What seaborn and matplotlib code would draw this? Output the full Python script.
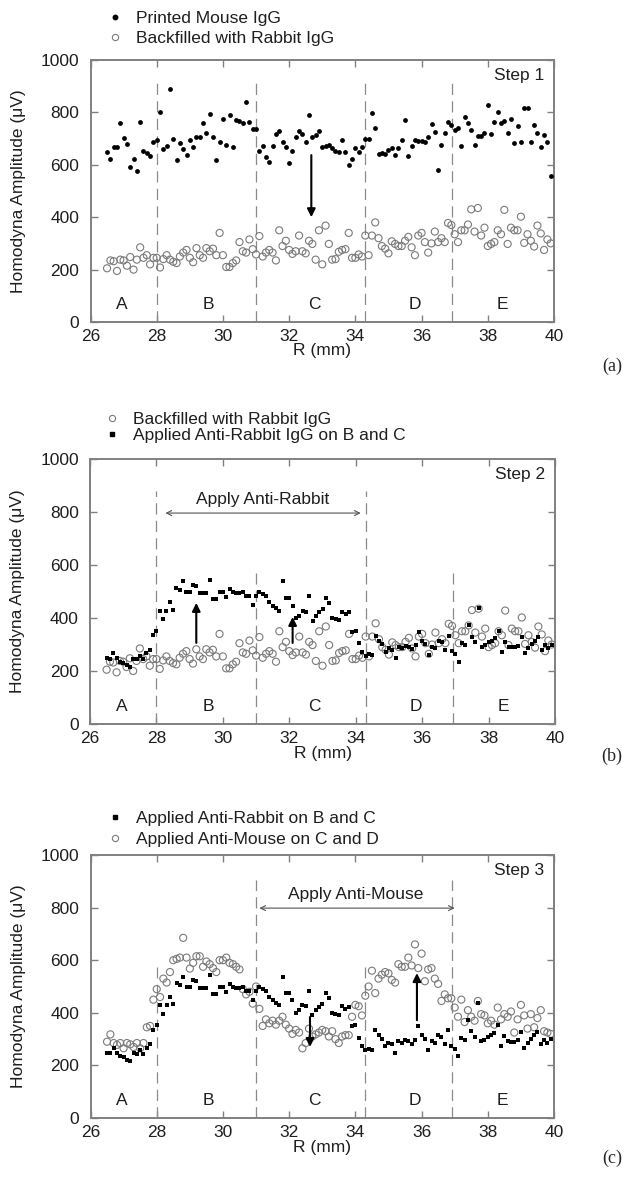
import numpy as np
import pandas as pd
import matplotlib
matplotlib.use("Agg")
import matplotlib.pyplot as plt
from matplotlib.lines import Line2D
import seaborn as sns

# ---------------- data ----------------
R = [26.5, 26.6, 26.7, 26.8, 26.9,
     27.0, 27.1, 27.2, 27.3, 27.4, 27.5, 27.6, 27.7, 27.8, 27.9,
     28.0, 28.1, 28.2, 28.3, 28.4, 28.5, 28.6, 28.7, 28.8, 28.9,
     29.0, 29.1, 29.2, 29.3, 29.4, 29.5, 29.6, 29.7, 29.8, 29.9,
     30.0, 30.1, 30.2, 30.3, 30.4, 30.5, 30.6, 30.7, 30.8, 30.9,
     31.0, 31.1, 31.2, 31.3, 31.4, 31.5, 31.6, 31.7, 31.8, 31.9,
     32.0, 32.1, 32.2, 32.3, 32.4, 32.5, 32.6, 32.7, 32.8, 32.9,
     33.0, 33.1, 33.2, 33.3, 33.4, 33.5, 33.6, 33.7, 33.8, 33.9,
     34.0, 34.1, 34.2, 34.3, 34.4, 34.5, 34.6, 34.7, 34.8, 34.9,
     35.0, 35.1, 35.2, 35.3, 35.4, 35.5, 35.6, 35.7, 35.8, 35.9,
     36.0, 36.1, 36.2, 36.3, 36.4, 36.5, 36.6, 36.7, 36.8, 36.9,
     37.0, 37.1, 37.2, 37.3, 37.4, 37.5, 37.6, 37.7, 37.8, 37.9,
     38.0, 38.1, 38.2, 38.3, 38.4, 38.5, 38.6, 38.7, 38.8, 38.9,
     39.0, 39.1, 39.2, 39.3, 39.4, 39.5, 39.6, 39.7, 39.8, 39.9]

mouse_igg = [650, 623, 669, 668, 761,
             701, 681, 592, 621, 578, 762, 654, 644, 634, 687,
             695, 803, 661, 670, 888, 699, 617, 682, 661, 639,
             695, 669, 708, 705, 758, 720, 792, 708, 618, 686,
             776, 675, 791, 667, 770, 769, 758, 839, 762, 738,
             738, 652, 671, 628, 612, 671, 716, 730, 687, 669,
             608, 654, 708, 729, 716, 688, 790, 705, 713, 729,
             669, 673, 674, 663, 652, 647, 696, 647, 601, 622,
             664, 648, 669, 698, 698, 798, 741, 641, 646, 641,
             656, 663, 637, 663, 696, 772, 634, 673, 694, 691,
             690, 688, 705, 755, 725, 580, 674, 721, 764, 753,
             733, 739, 671, 782, 758, 733, 675, 709, 709, 722,
             827, 717, 765, 802, 758, 768, 723, 774, 682, 750,
             686, 817, 817, 687, 753, 723, 667, 714, 686, 556]

rabbit_igg = [205, 235, 232, 195, 238,
              235, 215, 248, 200, 238, 285, 245, 255, 220, 245,
              245, 208, 240, 255, 238, 230, 225, 250, 265, 275,
              245, 228, 282, 255, 245, 282, 270, 280, 255, 340,
              255, 210, 210, 225, 235, 305, 270, 265, 315, 278,
              258, 328, 250, 265, 275, 265, 235, 350, 290, 310,
              275, 260, 270, 330, 270, 262, 310, 298, 238, 350,
              220, 368, 298, 238, 240, 268, 275, 278, 340, 245,
              245, 258, 250, 330, 255, 330, 380, 320, 290, 280,
              262, 308, 298, 290, 290, 310, 325, 285, 255, 330,
              340, 305, 265, 300, 345, 305, 320, 305, 378, 370,
              335, 305, 350, 350, 372, 430, 345, 435, 330, 360,
              290, 298, 305, 350, 335, 428, 298, 360, 350, 350,
              402, 302, 335, 310, 288, 368, 338, 275, 315, 300]

anti_rabbit = [249, 247, 267, 249, 234, 232, 222, 216, 247, 244,
               257, 244, 267, 280, 335, 352, 428, 396, 428, 460,
               432, 513, 504, 538, 497, 497, 523, 520, 495, 495,
               495, 542, 470, 470, 500, 497, 479, 510, 500, 495,
               494, 500, 482, 482, 449, 482, 497, 492, 482, 460,
               447, 437, 428, 538, 475, 475, 447, 399, 409, 428,
               424, 482, 390, 409, 422, 434, 477, 456, 399, 396,
               392, 424, 415, 422, 348, 352, 305, 272, 257, 263,
               260, 333, 314, 301, 272, 285, 280, 249, 292, 285,
               295, 292, 282, 297, 348, 314, 301, 260, 292, 285,
               314, 308, 280, 333, 275, 263, 234, 305, 297, 373,
               330, 308, 437, 292, 297, 308, 314, 323, 352, 272,
               311, 292, 289, 289, 295, 327, 267, 285, 301, 314,
               327, 280, 297, 285, 300]

anti_mouse = [290, 318, 285, 278, 285, 265, 285, 280, 270, 285,
              265, 285, 345, 350, 450, 490, 460, 530, 515, 555,
              600, 605, 610, 685, 610, 568, 590, 615, 615, 575,
              595, 585, 570, 555, 600, 600, 610, 590, 585, 575,
              565, 490, 470, 480, 435, 500, 415, 350, 375, 360,
              370, 355, 370, 385, 355, 340, 320, 335, 325, 265,
              285, 340, 310, 318, 325, 335, 330, 310, 330, 300,
              285, 310, 315, 315, 385, 430, 425, 390, 465, 500,
              560, 475, 530, 545, 555, 550, 525, 515, 585, 575,
              575, 610, 580, 660, 570, 625, 520, 565, 570, 530,
              510, 445, 470, 455, 455, 420, 385, 450, 365, 410,
              385, 370, 445, 395, 390, 360, 370, 355, 420, 375,
              395, 385, 405, 325, 375, 430, 390, 340, 395, 345,
              380, 410, 330, 325, 320]

region_labels = ["A", "B", "C", "D", "E"]
region_x = [26.95, 29.55, 32.75, 35.8, 38.45]
boundaries = [28.0, 31.0, 34.3, 36.93]
xticks = [26, 28, 30, 32, 34, 36, 38, 40]
yticks = [0, 200, 400, 600, 800, 1000]

df = pd.DataFrame({"R": R, "mouse": mouse_igg, "rabbit": rabbit_igg,
                   "anti_rabbit": anti_rabbit, "anti_mouse": anti_mouse})

# ---------------- style ----------------
sns.set_theme(style="ticks")
plt.rcParams["font.family"] = ["Liberation Sans", "DejaVu Sans"]
plt.rcParams["axes.unicode_minus"] = False

SP = "#808080"
GRAY = "#7a7a7a"
FS = 12.5
TXT = "#1e1e1e"

fig = plt.figure(figsize=(6.29, 11.77), dpi=100)
W, H = 629.0, 1177.0


def add_axes(left, top, right, bottom):
    return fig.add_axes([left / W, 1 - bottom / H, (right - left) / W, (bottom - top) / H])


ax_a = add_axes(90.5, 60, 554, 322)
ax_b = add_axes(90.0, 459, 555, 724)
ax_c = add_axes(90.5, 855, 554, 1118)


def setup(ax, step, dash_tops):
    ax.set_xlim(26, 40)
    ax.set_ylim(0, 1000)
    ax.set_xticks(xticks)
    ax.set_yticks(yticks)
    ax.tick_params(axis="both", direction="in", length=5, width=1.0, color=SP,
                   top=True, right=True, labelsize=FS, labelcolor=TXT)
    ax.tick_params(axis="x", pad=5)
    ax.tick_params(axis="y", pad=8)
    for sp in ax.spines.values():
        sp.set_color(SP)
        sp.set_linewidth(1.4)
        sp.set_visible(True)
    ax.set_xlabel("R (mm)", fontsize=FS, color=TXT)
    ax.set_ylabel("Homodyna Amplitude (\u03bcV)", fontsize=FS, color=TXT)
    ax.xaxis.set_label_coords(0.5, -0.082)
    ax.yaxis.set_label_coords(-0.139, 0.5)
    for bx, top in zip(boundaries, dash_tops):
        ax.plot([bx, bx], [0, top], color="#8a8a8a", lw=0.9, dashes=(9, 5), zorder=1)
    for lab, xx in zip(region_labels, region_x):
        ax.text(xx, 65, lab, fontsize=FS, ha="center", va="center", color=TXT)
    ax.text(39.7, 940, step, fontsize=FS, ha="right", va="center", color=TXT)


def filled(ax, col, marker, s):
    sns.scatterplot(data=df, x="R", y=col, ax=ax, marker=marker, s=s,
                    color="black", edgecolor="black", linewidth=0, zorder=3, legend=False)


def hollow(ax, col, s):
    sns.scatterplot(data=df, x="R", y=col, ax=ax, marker="o", s=s,
                    facecolors="none", edgecolor=GRAY, color=GRAY, linewidth=0.8,
                    zorder=2, legend=False)


def arrow(ax, x, y0, y1):
    ax.annotate("", xy=(x, y1), xytext=(x, y0),
                arrowprops=dict(arrowstyle="-|>", color="black", lw=1.5,
                                mutation_scale=12, shrinkA=0, shrinkB=0), zorder=5)


def span_arrow(ax, x0, x1, y):
    ax.annotate("", xy=(x1, y), xytext=(x0, y),
                arrowprops=dict(arrowstyle="<->", color="#555555", lw=0.8,
                                mutation_scale=9, shrinkA=0, shrinkB=0))


def legend(handles, labels, left_px, center_px, spacing):
    fig.legend(handles, labels, loc="center left",
               bbox_to_anchor=(left_px / W, 1 - center_px / H),
               frameon=False, fontsize=12.5, handlelength=0.8, handletextpad=0.8,
               labelspacing=spacing, borderpad=0, borderaxespad=0, labelcolor=TXT)


h_dot = Line2D([], [], ls="", marker="o", color="black", markersize=3.2)
h_sq = Line2D([], [], ls="", marker="s", color="black", markersize=3.2)
h_open = Line2D([], [], ls="", marker="o", mfc="none", mec=GRAY, mew=0.8, markersize=4.5)

# ---- panel (a) ----
setup(ax_a, "Step 1", [930, 930, 930, 930])
hollow(ax_a, "rabbit", 26)
filled(ax_a, "mouse", "o", 12)
arrow(ax_a, 32.67, 637, 400)
legend([h_dot, h_open], ["Printed Mouse IgG", "Backfilled with Rabbit IgG"], 108, 28.5, 0.25)
fig.text(612 / W, 1 - 366 / H, "(a)", family="Liberation Serif", fontsize=13,
         ha="center", va="center")

# ---- panel (b) ----
setup(ax_b, "Step 2", [880, 571, 880, 571])
hollow(ax_b, "rabbit", 26)
filled(ax_b, "anti_rabbit", "s", 12)
arrow(ax_b, 29.2, 306, 457)
arrow(ax_b, 32.1, 306, 404)
span_arrow(ax_b, 28.27, 34.15, 796)
ax_b.text(31.2, 849, "Apply Anti-Rabbit", fontsize=FS, ha="center", va="center", color=TXT)
legend([h_open, h_sq], ["Backfilled with Rabbit IgG", "Applied Anti-Rabbit IgG on B and C"],
       105, 427.5, 0.05)
fig.text(612 / W, 1 - 756 / H, "(b)", family="Liberation Serif", fontsize=13,
         ha="center", va="center")

# ---- panel (c) ----
setup(ax_c, "Step 3", [575, 905, 575, 905])
hollow(ax_c, "anti_mouse", 26)
filled(ax_c, "anti_rabbit", "s", 12)
arrow(ax_c, 32.63, 384, 270)
arrow(ax_c, 35.86, 372, 551)
span_arrow(ax_c, 31.1, 37.0, 798)
ax_c.text(34.0, 848, "Apply Anti-Mouse", fontsize=FS, ha="center", va="center", color=TXT)
legend([h_sq, h_open], ["Applied Anti-Rabbit on B and C", "Applied Anti-Mouse on C and D"],
       108, 829, 0.3)
fig.text(612 / W, 1 - 1158 / H, "(c)", family="Liberation Serif", fontsize=13,
         ha="center", va="center")

fig.savefig("out.png", dpi=100)
